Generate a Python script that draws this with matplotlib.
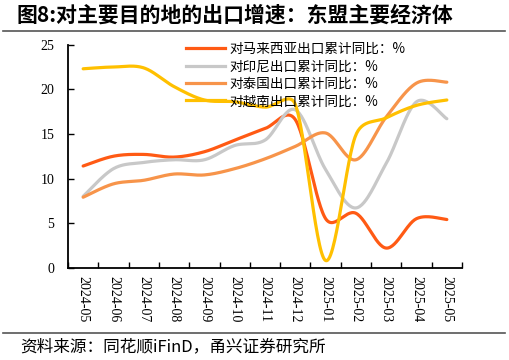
import numpy as np
import matplotlib.pyplot as plt
from matplotlib.lines import Line2D

plt.rcParams['font.family'] = ['Noto Sans CJK SC', 'DejaVu Sans']

months = ['2024-05', '2024-06', '2024-07', '2024-08', '2024-09', '2024-10', '2024-11',
          '2024-12', '2025-01', '2025-02', '2025-03', '2025-04', '2025-05']
malaysia = [11.4, 12.5, 12.7, 12.4, 13.0, 14.3, 15.6, 16.6, 5.5, 6.1, 2.2, 5.5, 5.4]
indonesia = [8.0, 11.1, 11.8, 12.1, 12.1, 13.7, 14.3, 17.7, 11.0, 6.7, 11.7, 18.6, 16.7]
thailand = [7.9, 9.4, 9.8, 10.5, 10.4, 11.1, 12.2, 13.6, 15.1, 12.1, 16.9, 20.7, 20.8]
vietnam = [22.3, 22.5, 22.4, 20.3, 18.8, 18.6, 18.0, 18.3, 0.8, 14.9, 16.8, 18.2, 18.8]

series = [
    ('对马来西亚出口累计同比：%', malaysia, '#FF5A14'),
    ('对印尼出口累计同比：%', indonesia, '#C8C8C8'),
    ('对泰国出口累计同比：%', thailand, '#F7944A'),
    ('对越南出口累计同比：%', vietnam, '#FFC000'),
]

# pixel size of one x step and one y unit, so the smoothing is done on screen shape
XS, YS = 30.3, 8.92


def smooth(x, y, n=30):
    # excel-like smoothed line: catmull-rom arms, clipped to half the segment
    p = np.column_stack([np.asarray(x, float) * XS, np.asarray(y, float) * YS])
    m = len(p)
    t = np.linspace(0, 1, n, endpoint=False)[:, None]
    pts = []
    for i in range(m - 1):
        p0, p3 = p[i], p[i + 1]
        L = np.hypot(*(p3 - p0))
        a = p3 - p[i - 1] if i > 0 else p3 - p0
        b = p[i + 2] - p0 if i + 2 < m else p3 - p0
        a = a / 6
        b = b / 6
        if np.hypot(*a) > L / 2:
            a = a * (L / 2) / np.hypot(*a)
        if np.hypot(*b) > L / 2:
            b = b * (L / 2) / np.hypot(*b)
        p1 = p0 + a
        p2 = p3 - b
        seg = ((1 - t) ** 3 * p0 + 3 * (1 - t) ** 2 * t * p1
               + 3 * (1 - t) * t ** 2 * p2 + t ** 3 * p3)
        pts.append(seg)
    pts.append(p[-1:])
    pts = np.vstack(pts)
    return pts[:, 0] / XS, pts[:, 1] / YS


fig = plt.figure(figsize=(5.09, 3.60), dpi=100)
ax = fig.add_axes([68 / 509, 92.3 / 360, 394 / 509, 223 / 360])

xpos = np.arange(len(months))
handles = []
for label, vals, color in series:
    sx, sy = smooth(xpos, vals)
    ax.plot(sx, sy, color=color, lw=2.3, solid_capstyle='round')
    handles.append(Line2D([], [], color=color, lw=2.3, label=label))

ax.set_xlim(-0.5, len(months) - 0.5)
ax.set_ylim(0, 25)
ax.set_yticks(range(0, 26, 5))
ax.set_xticks(np.arange(len(months) + 1) - 0.5, minor=False)
ax.set_xticklabels([])
ax.set_xticks(xpos, minor=True)
ax.set_xticklabels(months, minor=True, rotation=-90, family='Liberation Serif', fontsize=10)
ax.tick_params(axis='x', which='minor', length=0, pad=6)
ax.tick_params(axis='x', which='major', direction='in', length=4, width=1)
ax.tick_params(axis='y', direction='in', length=4, width=1, labelsize=10, pad=10)
for t in ax.get_yticklabels():
    t.set_family('Liberation Serif')
for s in ['top', 'right']:
    ax.spines[s].set_visible(False)
for s in ['left', 'bottom']:
    ax.spines[s].set_linewidth(1.3)

fig.legend(handles=handles, loc='upper left', bbox_to_anchor=(186 / 509, 1 - 42 / 360),
           frameon=False, fontsize=9.8, handlelength=2.9, handletextpad=0.3,
           labelspacing=0.25, borderpad=0, borderaxespad=0)

fig.text(17 / 509, 1 - 15 / 360, '图8:对主要目的地的出口增速：东盟主要经济体',
         fontsize=15, fontweight='bold', va='center', ha='left')
fig.add_artist(Line2D([3 / 509, 505 / 509], [1 - 31 / 360] * 2, color='#555555', lw=1.2))
fig.add_artist(Line2D([3 / 509, 505 / 509], [1 - 333 / 360] * 2, color='#555555', lw=1.2))
fig.text(20 / 509, 1 - 347 / 360, '资料来源：同花顺iFinD，甬兴证券研究所',
         fontsize=12, style='italic', va='center', ha='left')

fig.savefig('out.png', dpi=100)
